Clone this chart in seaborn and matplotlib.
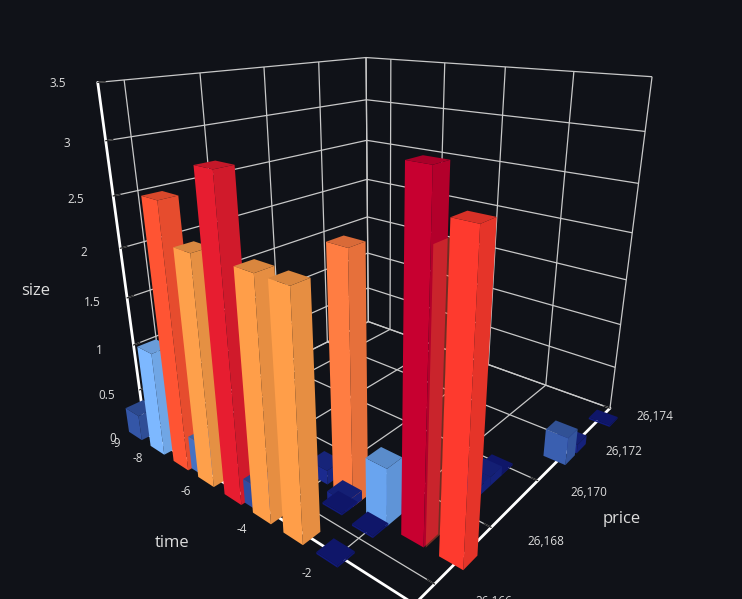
import numpy as np
import matplotlib
matplotlib.use('Agg')
import matplotlib.pyplot as plt
import seaborn as sns
from matplotlib.colors import LinearSegmentedColormap, to_rgba

time = [-9, -8, -7, -6, -5, -4, -3, -2,
        -6.4, -4.4, -4, -3, -3, -3, -2, -2, -2, -1, 0,
        -1, -1, -1, 0, 0, 0.15]
price = [26165.5, 26165.5, 26165.5, 26165.5, 26165.5, 26165.5, 26165.5, 26165.5,
         26165.6, 26165.6, 26167.2, 26166.65, 26166.8, 26167, 26166.55, 26167, 26167.5, 26167, 26167,
         26169, 26169.5, 26170, 26171.3, 26171.9, 26173.5]
size = [0.28, 1.1, 2.63, 2.26, 3.0, 2.28, 2.28, 0.02,
        0.35, 0.25, 0.15, 0.02, 0.1, 2.4, 0.02, 0.58, 0.15, 3.15, 2.82,
        0.1, 0.1, 0.02, 0.3, 0.1, 0.02]

# second bar sharing the crimson bar's cell, the two faces fight in the reference
overlap_time = -0.96
overlap_price = 26167.02
overlap_size = 2.6

time_ticks = [-9, -8, -6, -4, -2, 0]
price_ticks = [26166, 26168, 26170, 26172, 26174]
size_ticks = [0, 0.5, 1, 1.5, 2, 2.5, 3, 3.5]
size_labels = ['0', '0.5', '1', '1.5', '2', '2.5', '3', '3.5']
size_stops = [0, 0.15, 0.28, 0.3, 0.58, 1.1, 2.27, 2.4, 2.63, 2.82, 3.0, 3.15, 3.5]
stop_colors = ['#10187a', '#1c2c90', '#3558a8', '#4069bb', '#6aa5f0', '#7db8ff', '#ffa04a',
               '#ff7d42', '#ff5533', '#ff3b2e', '#e81e30', '#c80030', '#a80028']

bg = '#101218'
text_color = '#dddddd'
sns.set_theme(style='dark', rc={'figure.facecolor': bg, 'axes.facecolor': bg, 'text.color': text_color})
plt.rcParams['font.family'] = ['Open Sans', 'DejaVu Sans']

cmap = LinearSegmentedColormap.from_list('size', [(v / 3.5, c) for v, c in zip(size_stops, stop_colors)])

fig = plt.figure(figsize=(7.42, 5.99), dpi=100)
ax = fig.add_axes([0.00718, 0.04454, 1, 1], projection='3d', computed_zorder=False)
ax.set_facecolor(bg)
ax.set_proj_type('persp', focal_length=0.2215)
ax.view_init(20.47, -50.30)
ax.set_box_aspect((0.992, 0.9967, 1), zoom=1.0088)
ax.set_xlim(-9, 0)
ax.set_ylim(26165.38, 26174)
ax.set_zlim(0, 3.5)


def draw_bar(t, p, s, z, overlap=False):
    base = np.array(to_rgba(cmap(s / 3.5)))
    side = base * [0.9, 0.9, 0.9, 0.45 if overlap else 1]
    top = base * [0.85, 0.85, 0.85, 1]
    clear = (0, 0, 0, 0)
    # bottom, top, -y, +y, -x, +x
    faces = [clear, clear, clear, clear, clear, side] if overlap else [clear, top, base, clear, clear, side]
    bars = ax.bar3d(t - 0.37, p - 0.365, 0, 0.6, 0.5, s, color=faces, shade=False, linewidth=0)
    bars.set_zorder(z)


# far bars first so the near ones paint over them
order = np.argsort(np.array(time) - np.array(price))
for n, i in enumerate(order):
    draw_bar(time[i], price[i], size[i], 3 + n)
    if time[i] == -1 and size[i] > 3:
        draw_bar(overlap_time, overlap_price, overlap_size, 3 + n, overlap=True)

ax.set_xticks(time_ticks)
ax.set_yticks(price_ticks)
ax.set_zticks(size_ticks)
ax.set_xticklabels([])
ax.set_yticklabels([])
ax.set_zticklabels([])
ax.zaxis.set_ticks_position('lower')

for axis in (ax.xaxis, ax.yaxis, ax.zaxis):
    axis.set_pane_color((0, 0, 0, 0))
    axis.pane.set_edgecolor((0, 0, 0, 0))
    axis.line.set_color('white')
    axis.line.set_linewidth(2)
    axis._axinfo['grid'].update(color='#c8c8c8', linewidth=0.9, linestyle='-')
    axis._axinfo['tick'].update(inward_factor=0, outward_factor=0.25, linewidth={True: 0.9, False: 0.5},
                                color='#e0e0e0')

# tick labels sit at fixed offsets from the axes
for t in time_ticks:
    ax.text(t - 0.15, 26164.65, 0, str(t), fontsize=8.5, ha='center', va='center', color=text_color)
for p in price_ticks:
    ax.text(1.12, p + 0.36, 0, f'{p:,}', fontsize=8.5, ha='center', va='center', color=text_color)
for s, lab in zip(size_ticks, size_labels):
    ax.text(-9.41, 26164.71, s, lab, fontsize=8.5, ha='center', va='center', color=text_color)

fig.text(172 / 742, 1 - 543 / 599, 'time', fontsize=12, ha='center', va='center', color=text_color)
fig.text(622 / 742, 1 - 519 / 599, 'price', fontsize=12, ha='center', va='center', color=text_color)
fig.text(36 / 742, 1 - 291 / 599, 'size', fontsize=12, ha='center', va='center', color=text_color)

fig.savefig('out.png', dpi=100, facecolor=bg)
